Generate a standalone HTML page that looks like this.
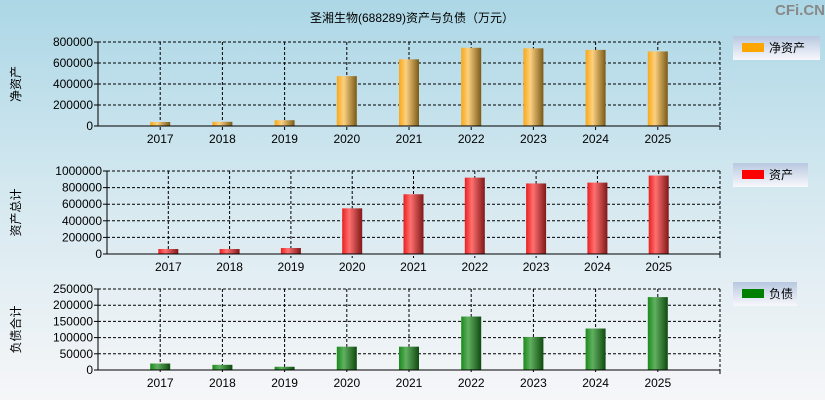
<!DOCTYPE html>
<html><head><meta charset="utf-8"><style>
body{margin:0;width:825px;height:400px;overflow:hidden;background:linear-gradient(#acd7e6,#d6e9f0 50%,#f6f6f8);font-family:"Liberation Sans","Noto Sans CJK SC",sans-serif}
svg{position:absolute;left:0;top:0}
</style></head><body>
<svg width="825" height="400" id="c">
<defs>
<linearGradient id="g0"><stop offset="0" stop-color="#f8a818"/><stop offset="0.35" stop-color="#fcd080"/><stop offset="1" stop-color="#7a5a18"/></linearGradient>
<linearGradient id="g1"><stop offset="0" stop-color="#e82020"/><stop offset="0.35" stop-color="#ff7070"/><stop offset="1" stop-color="#801818"/></linearGradient>
<linearGradient id="g2"><stop offset="0" stop-color="#1a8a1a"/><stop offset="0.35" stop-color="#60b060"/><stop offset="1" stop-color="#104a10"/></linearGradient>
<linearGradient id="lg" x1="0" y1="0" x2="0" y2="1"><stop offset="0" stop-color="#b8c8e0"/><stop offset="1" stop-color="#f8f8fc"/></linearGradient>
</defs>
<text x="412" y="22" font-size="12" text-anchor="middle">圣湘生物(688289)资产与负债（万元）</text>
<text x="800" y="15" font-size="15" fill="#888" text-anchor="middle" font-weight="bold">CFi.CN</text>
</svg>
<script>
const years=["2017","2018","2019","2020","2021","2022","2023","2024","2025"];
const netAssets=[38000,40000,55000,475000,635000,745000,740000,725000,710000];
const totalAssets=[60000,60000,72000,550000,720000,920000,850000,860000,945000];
const liabilities=[20000,16000,10000,72000,72000,165000,102000,128000,225000];
const ticks0=[0,200000,400000,600000,800000];
const ticks1=[0,200000,400000,600000,800000,1000000];
const ticks2=[0,50000,100000,150000,200000,250000];
const NS="http://www.w3.org/2000/svg";
const svg=document.getElementById('c');
function mk(t,a,p){const e=document.createElementNS(NS,t);for(const k in a)e.setAttribute(k,a[k]);(p||svg).appendChild(e);return e;}
const panels=[
 {vals:netAssets,ticks:ticks0,max:800000,x0:98,x1:720,y0:42,y1:126,fill:"url(#g0)",lc:"#ffa500",name:"净资产",ylab:"净资产",lw:87,ly:36,key:"net-assets"},
 {vals:totalAssets,ticks:ticks1,max:1000000,x0:107,x1:720,y0:171,y1:254,fill:"url(#g1)",lc:"#ff0000",name:"资产",ylab:"资产总计",lw:75,ly:163,key:"total-assets"},
 {vals:liabilities,ticks:ticks2,max:250000,x0:98,x1:720,y0:289,y1:370,fill:"url(#g2)",lc:"#008000",name:"负债",ylab:"负债合计",lw:64,ly:282,key:"liabilities"}
];
panels.forEach(p=>{
 const g=mk('g',{});
 
 
 const sx=i=>p.x0+(p.x1-p.x0)/10*(i+1);
 const sy=v=>p.y1-(p.y1-p.y0)*v/p.max;
 p.ticks.forEach(t=>{
  const y=sy(t);
  if(t>0)mk('line',{x1:p.x0,x2:p.x1,y1:y,y2:y,stroke:"#000","stroke-dasharray":"3,2"},g);
  mk('line',{x1:p.x0-4,x2:p.x0,y1:y,y2:y,stroke:"#000"},g);
  const tx=mk('text',{x:p.x0-5,y:y+4,"font-size":"12","text-anchor":"end"},g);tx.textContent=t;
  
  
 });
 mk('line',{x1:p.x1,x2:p.x1,y1:p.y0,y2:p.y1,stroke:"#000","stroke-dasharray":"3,2"},g);
 years.forEach((yr,i)=>{
  const x=sx(i);
  mk('line',{x1:x,x2:x,y1:p.y0,y2:p.y1+4,stroke:"#000","stroke-dasharray":"3,2"},g);
  const r=mk('rect',{x:x-10,y:sy(p.vals[i]),width:20,height:p.y1-sy(p.vals[i]),fill:p.fill},g);
  
  
  const tx=mk('text',{x:x,y:p.y1+17,"font-size":"12","text-anchor":"middle"},g);tx.textContent=yr;
  
  
 });
 mk('line',{x1:p.x0,x2:p.x0,y1:p.y0,y2:p.y1,stroke:"#000"},g);
 mk('line',{x1:p.x0,x2:p.x1,y1:p.y1,y2:p.y1,stroke:"#000"},g);
 mk('line',{x1:p.x1,x2:p.x1,y1:p.y1,y2:p.y1+4,stroke:"#000"},g);
 const yl=mk('text',{x:0,y:0,"font-size":"12","text-anchor":"middle",transform:`translate(20,${(p.y0+p.y1)/2}) rotate(-90)`},g);yl.textContent=p.ylab;
 
 
 const lg=mk('g',{},g);
 
 
 mk('rect',{x:733,y:p.ly,width:p.lw,height:24,fill:"url(#lg)"},lg);
 mk('rect',{x:742,y:p.ly+7,width:22,height:9,fill:p.lc},lg);
 const lt=mk('text',{x:769,y:p.ly+16,"font-size":"12"},lg);lt.textContent=p.name;
});
</script>
</body></html>
